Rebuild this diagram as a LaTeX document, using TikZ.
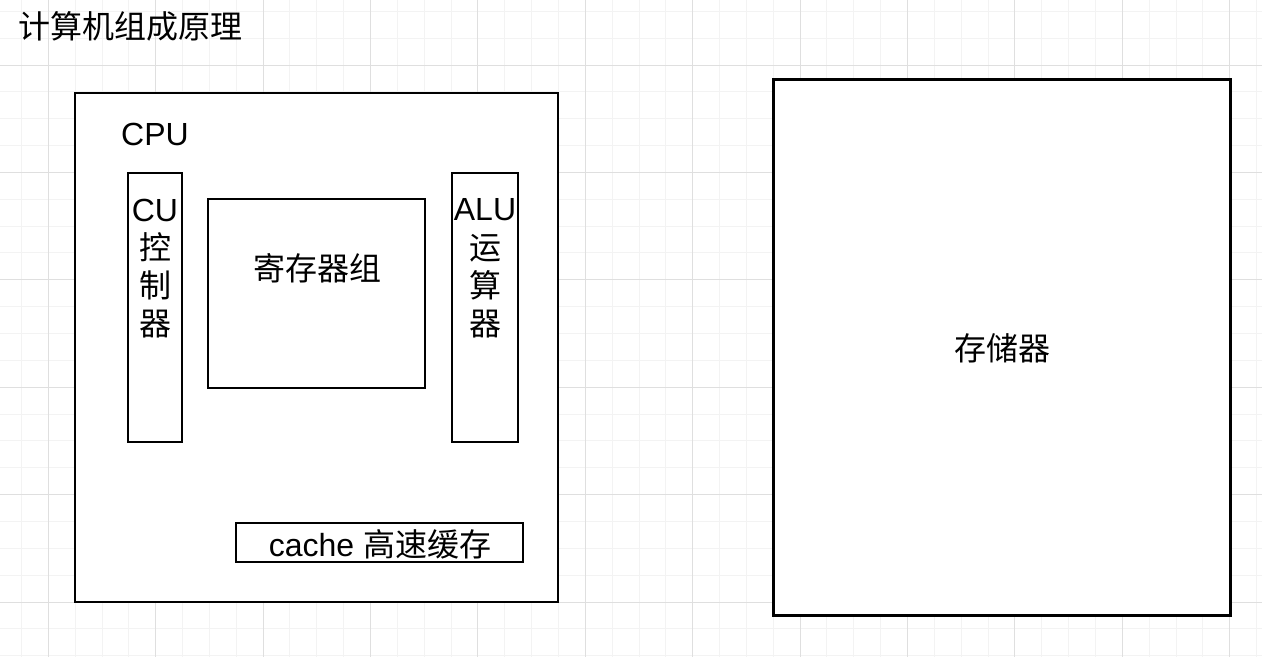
\documentclass[tikz,border=0pt]{standalone}
\usepackage{fontspec}
\setmainfont{Liberation Sans}
\newfontfamily\cjk{Noto Sans CJK SC}
\definecolor{minorgrid}{HTML}{F3F3F3}
\definecolor{majorgrid}{HTML}{DFDFDF}
\begin{document}
\begin{tikzpicture}[x=0.75pt,y=-0.75pt,
  minorline/.style={draw=minorgrid,line width=0.75pt},
  majorline/.style={draw=majorgrid,line width=0.75pt},
  outerbox/.style={draw=black,fill=white,line width=2pt,rectangle,inner sep=0pt},
  innerbox/.style={draw=black,fill=white,line width=1.5pt,rectangle,inner sep=0pt},
  lbl/.style={inner sep=0pt,font=\fontsize{24}{28.5}\selectfont,align=center},
  cjklbl/.style={inner sep=0pt,font=\cjk\fontsize{24}{28.5}\selectfont,align=center}]
\useasboundingbox (0,0) rectangle (1262,657);
\fill[white] (0,0) rectangle (1262,657);
% grid
\foreach \i in {0,...,46} {\draw[minorline] ({21.45+\i*26.85},0) -- ++(0,657);}
\foreach \i in {0,...,24} {\draw[minorline] (0,{11.3+\i*26.85}) -- ++(1262,0);}
\foreach \i in {0,...,11} {\draw[majorline] ({48.3+\i*107.4},0) -- ++(0,657);}
\foreach \i in {0,...,5} {\draw[majorline] (0,{65+\i*107.4}) -- ++(1262,0);}
% title
\node[cjklbl,anchor=west] (title) at (18,26) {计算机组成原理};
% boxes
\node[outerbox,minimum width=483*0.75pt,minimum height=509*0.75pt] (cpu) at (316.5,347.5) {};
\node[outerbox,minimum width=457.5*0.75pt,minimum height=536*0.75pt] (mem) at (1002,347.5) {};
\node[innerbox,minimum width=53.4*0.75pt,minimum height=269*0.75pt] (cu) at (155,307) {};
\node[innerbox,minimum width=216.7*0.75pt,minimum height=189.3*0.75pt] (reg) at (316.7,293.7) {};
\node[innerbox,minimum width=66.6*0.75pt,minimum height=268.7*0.75pt] (alu) at (485,307.3) {};
\node[innerbox,minimum width=287*0.75pt,minimum height=39*0.75pt] (cache) at (379.5,542.5) {};
% texts
\node[lbl] (cputxt) at (155,134.5) {CPU};
\node[lbl,anchor=north] (cutxt) at (155,198.5) {CU\\[0.6pt]{\cjk 控}\\{\cjk 制}\\{\cjk 器}};
\node[lbl,anchor=north] (alutxt) at (485,198.5) {ALU\\[0.6pt]{\cjk 运}\\{\cjk 算}\\{\cjk 器}};
\node[cjklbl] (regtxt) at (317,268) {寄存器组};
\node[cjklbl] (memtxt) at (1002,348) {存储器};
\node[lbl] (cachetxt) at (380,544) {cache {\cjk 高速缓存}};
\end{tikzpicture}
\end{document}
